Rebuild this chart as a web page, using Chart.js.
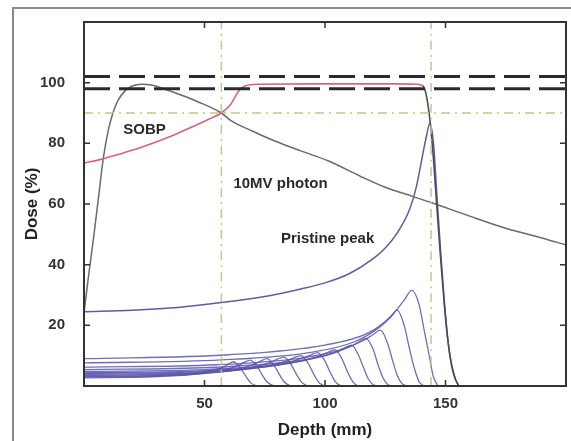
<!DOCTYPE html>
<html>
<head>
<meta charset="utf-8">
<script src="https://cdn.jsdelivr.net/npm/chart.js@4"></script>
<style>
  html, body { margin:0; padding:0; background:#fff; }
  #wrap { width:571px; height:441px; position:relative; }
</style>
</head>
<body>
<div id="wrap"><canvas id="ch"></canvas></div>
<script>
'use strict';
/* ── data: [depth mm, dose %] ────────────────────────────────────────────── */
const X_TICKS = [50, 100, 150];
const Y_TICKS = [20, 40, 60, 80, 100];

const photon = [[0,24],[2,37],[4,49],[6,62],[8,75],[10,84],[12,90],[14,94],[17,97.3],[20,98.9],[24,99.5],
  [28,99.2],[33,98],[40,96],[47,93.8],[57,90],[61,87.5],[70,84],[80,80.5],[90,77.5],[102,74],[115,69],
  [125,65.5],[136,62.6],[144,60.5],[160,56],[175,52],[190,48.8],[200,46.5]];

const sobp = [[0,73.5],[7.5,74.8],[15,76.5],[25,79],[35,82],[45,85.5],[52,88],[57,90],[61,93],[64,97],
  [67,99],[72,99.5],[100,99.6],[130,99.6],[138,99.5],[140.5,99],[142,96],[143.5,88],[145,75],[146.5,58],
  [148,42],[149.5,27],[151,15],[152.5,7],[154,2.5],[155.5,0]];

const pristine = [[0,24.5],[20,25],[40,26],[57,27.5],[75,29.5],[90,32],[100,34],[110,37],[120,42],[125,45.5],
  [130,50.5],[135,58],[138,66],[140,74],[142,82],[143.5,86.5],[145,80],[146.5,62],[148,44],[149.5,28],
  [151,15],[152.5,7],[154,2.5],[155.5,0]];

const peak1  = [[0,9],[60,10.3],[100,13.5],[118,17.5],[128,23.5],[133,28.5],[136,31.5],[139,27],[141,19],[143,11],[145,3],[147,0]];
const peak2  = [[0,7.6],[57,8.6],[95,11.2],[112,14.5],[122,19],[127,22.5],[130,25],[133,19.5],[135,12.5],[137,6],[139,1.5],[141,0]];
const peak3  = [[0,6.2],[55,7],[90,9.2],[106,11.8],[116,15],[120,17],[123,18.4],[126,14],[128,8.5],[130,3.5],[132,0.8],[134,0]];
const peak4  = [[0,5.4],[52,6.1],[85,8],[101,10.3],[110,12.8],[114,14.5],[117,15.7],[120,12],[122,7],[124,2.8],[126,0.5],[128,0]];
const peak5  = [[0,4.8],[50,5.4],[80,7],[95,9],[104,11],[108,12.5],[111,13.5],[114,10],[116,6],[118,2.3],[120,0.4],[122,0]];
const peak6  = [[0,4.4],[46,4.9],[75,6.3],[89,8],[97,9.8],[101,11],[104,12],[107,9],[109,5.3],[111,2],[113,0.3],[115,0]];
const peak7  = [[0,4.1],[43,4.6],[70,5.8],[83,7.4],[90,9],[94,10.2],[97,11],[100,8.2],[102,4.8],[104,1.8],[106,0.3],[108,0]];
const peak8  = [[0,3.8],[40,4.2],[65,5.3],[77,6.8],[84,8.2],[87,9.3],[90,10],[93,7.5],[95,4.4],[97,1.6],[99,0.3],[101,0]];
const peak9  = [[0,3.5],[37,3.9],[60,4.9],[71,6.3],[77,7.7],[80,8.8],[83,9.5],[86,7],[88,4.1],[90,1.5],[92,0.3],[94,0]];
const peak10 = [[0,3.2],[34,3.6],[55,4.5],[65,5.8],[71,7.3],[73.5,8.3],[76,9],[79,6.6],[81,3.9],[83,1.4],[85,0.3],[87,0]];
const peak11 = [[0,3],[31,3.3],[50,4.2],[59,5.4],[64,6.8],[66.5,7.8],[69,8.5],[72,6.2],[74,3.6],[76,1.3],[78,0.3],[80,0]];
const peak12 = [[0,2.7],[28,3],[45,3.8],[53,5],[58,6.3],[60,7.3],[62,8],[65,5.8],[67,3.4],[69,1.2],[71,0.2],[73,0]];
const peaklets = [peak1,peak2,peak3,peak4,peak5,peak6,peak7,peak8,peak9,peak10,peak11,peak12];

const tolUpper = [[0,102],[200,102]];
const tolLower = [[0,98],[200,98]];
const level90  = [[0,90],[200,90]];
const proxEdge = [[57,0],[57,120]];
const distEdge = [[144,0],[144,120]];

/* ── helpers ─────────────────────────────────────────────────────────────── */
const pts = a => a.map(([x,y]) => ({ x, y }));
const FONT = 'Liberation Sans, Arial, Helvetica, sans-serif';

function curve(data, color, width, order, extra) {
  return Object.assign({ data: pts(data), borderColor: color, borderWidth: width, pointRadius: 0,
    fill: false, cubicInterpolationMode: 'monotone', order }, extra || {});
}

const datasets = [
  curve(tolUpper, '#2b2b2b', 3, 0, { borderDash: [26, 9] }),
  curve(tolLower, '#2b2b2b', 3, 0, { borderDash: [26, 9] }),
  curve(level90,  '#bccb86', 1.5, 1, { borderDash: [9, 5, 2, 5] }),
  curve(proxEdge, '#bccb86', 1.5, 1, { borderDash: [9, 5, 2, 5] }),
  curve(distEdge, '#bccb86', 1.5, 1, { borderDash: [9, 5, 2, 5] }),
  curve(sobp, '#d9647a', 1.6, 2, { segment: { borderColor: c => c.p0.parsed.x >= 140.5 ? '#4a4a5a' : undefined } }),
  curve(photon, '#6a6a6a', 1.5, 3),
  curve(pristine, '#5d5ca2', 1.5, 4),
  ...peaklets.map(p => curve(p, 'rgba(88,84,172,0.85)', 1.3, 5)),
];

/* ── decorations: outer frame, box, inward ticks, curve labels ──────────── */
const deco = {
  id: 'deco',
  beforeDraw(chart) {
    const c = chart.ctx;
    c.save();
    c.fillStyle = '#fff'; c.fillRect(0, 0, chart.width, chart.height);
    c.strokeStyle = '#8a8a8a'; c.lineWidth = 2;
    c.beginPath(); c.moveTo(13, chart.height); c.lineTo(13, 8); c.lineTo(chart.width, 8); c.stroke();
    c.restore();
  },
  afterDraw(chart) {
    const c = chart.ctx, a = chart.chartArea, sx = chart.scales.x, sy = chart.scales.y;
    c.save();
    c.strokeStyle = '#333'; c.lineWidth = 2;
    c.strokeRect(a.left, a.top, a.right - a.left, a.bottom - a.top);
    c.lineWidth = 1.5; c.beginPath();
    Y_TICKS.forEach(v => { const y = sy.getPixelForValue(v);
      c.moveTo(a.left, y); c.lineTo(a.left + 6, y); c.moveTo(a.right, y); c.lineTo(a.right - 6, y); });
    X_TICKS.forEach(v => { const x = sx.getPixelForValue(v);
      c.moveTo(x, a.bottom); c.lineTo(x, a.bottom - 6); c.moveTo(x, a.top); c.lineTo(x, a.top + 6); });
    c.stroke();
    c.fillStyle = '#2a2a2a'; c.font = 'bold 15px ' + FONT; c.textBaseline = 'middle'; c.textAlign = 'left';
    [['SOBP', 16.3, 84.3], ['10MV photon', 62, 66.6], ['Pristine peak', 81.7, 48.5]].forEach(([t, x, y]) =>
      c.fillText(t, sx.getPixelForValue(x), sy.getPixelForValue(y)));
    c.restore();
  }
};

new Chart(document.getElementById('ch'), {
  type: 'line',
  data: { datasets },
  plugins: [deco],
  options: {
    responsive: true, maintainAspectRatio: false, animation: false,
    layout: { padding: { left: 0, right: 5, top: 22, bottom: 0 } },
    plugins: { legend: { display: false }, tooltip: { enabled: false } },
    scales: {
      x: {
        type: 'linear', min: 0, max: 200,
        afterBuildTicks: s => { s.ticks = X_TICKS.map(v => ({ value: v })); },
        afterFit: s => { s.height = 55; s.paddingLeft = 0; s.paddingRight = 0; },
        grid: { display: false, drawTicks: false }, border: { display: false },
        ticks: { color: '#333', padding: 9, font: { family: FONT, size: 15, weight: 'bold' } },
        title: { display: true, text: 'Depth (mm)', color: '#222', padding: { top: 0, bottom: 0 },
          font: { family: FONT, size: 17, weight: 'bold' } }
      },
      y: {
        type: 'linear', min: 0, max: 120,
        afterBuildTicks: s => { s.ticks = Y_TICKS.map(v => ({ value: v })); },
        afterFit: s => { s.width = 84; s.paddingTop = 0; s.paddingBottom = 0; },
        grid: { display: false, drawTicks: false }, border: { display: false },
        ticks: { color: '#333', padding: 19, font: { family: FONT, size: 15, weight: 'bold' } },
        title: { display: true, text: 'Dose (%)', color: '#222', padding: { top: 22, bottom: 0 },
          font: { family: FONT, size: 17, weight: 'bold' } }
      }
    }
  }
});
</script>
</body>
</html>
